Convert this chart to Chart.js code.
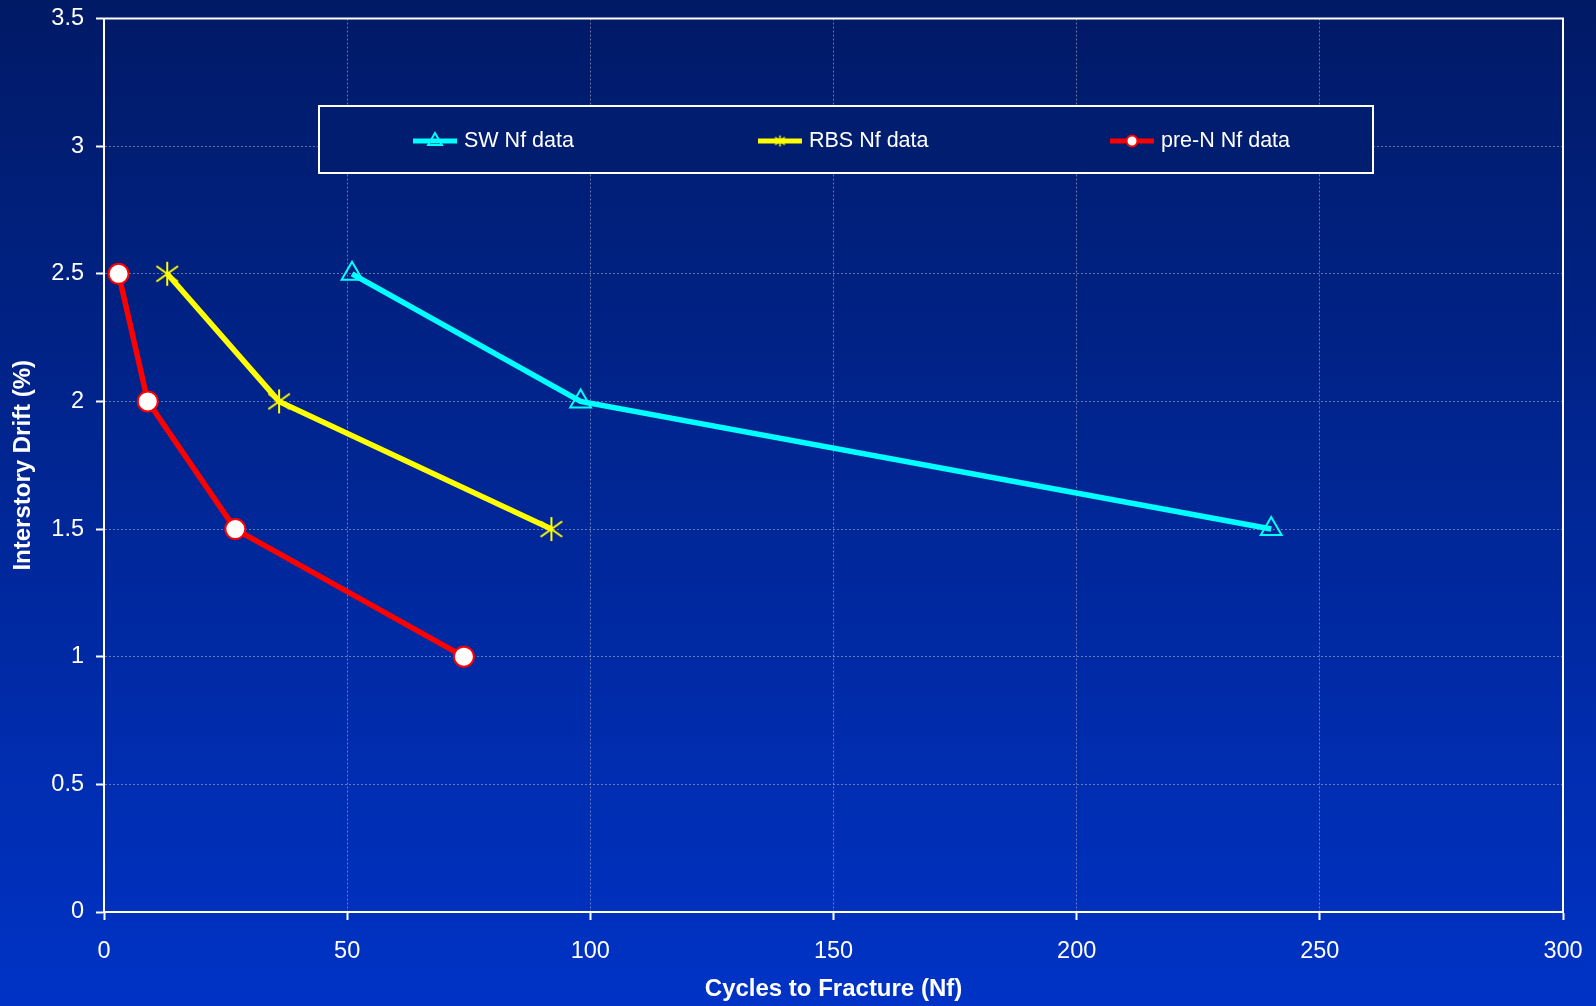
<!DOCTYPE html>
<html>
<head>
<meta charset="utf-8">
<script src="https://cdn.jsdelivr.net/npm/chart.js@4.4.0/dist/chart.umd.min.js"></script>
<style>
  html, body { margin: 0; padding: 0; background: #00227f; }
  #wrap { width: 1596px; height: 1006px; position: relative; }
</style>
</head>
<body>
<div id="wrap"><canvas id="fatigueChart"></canvas></div>
<script>
// data
const swCycles = [51, 98, 240];
const swDrift = [2.5, 2.0, 1.5];
const rbsCycles = [13, 36, 92];
const rbsDrift = [2.5, 2.0, 1.5];
const preNCycles = [3, 9, 27, 74];
const preNDrift = [2.5, 2.0, 1.5, 1.0];
const seriesNames = ["SW Nf data", "RBS Nf data", "pre-N Nf data"];
const xMax = 300, xStep = 50;
const yMax = 3.5, yStep = 0.5;

const FONT = "'Liberation Sans', Arial, sans-serif";

function toPoints(xs, ys) {
  return xs.map((x, i) => ({ x: x, y: ys[i] }));
}

// asterisk marker (vertical + two diagonals)
function makeAsterisk(size, color, lw) {
  const c = document.createElement("canvas");
  c.width = size; c.height = size;
  const g = c.getContext("2d");
  const m = size / 2, r = size / 2 - 1;
  g.strokeStyle = color;
  g.lineWidth = lw;
  g.beginPath();
  g.moveTo(m, m - r); g.lineTo(m, m + r);
  g.moveTo(m - r * 0.9, m - r * 0.65); g.lineTo(m + r * 0.9, m + r * 0.65);
  g.moveTo(m + r * 0.9, m - r * 0.65); g.lineTo(m - r * 0.9, m + r * 0.65);
  g.stroke();
  return c;
}
const starBig = makeAsterisk(26, "#ffff00", 2);
const starSmall = makeAsterisk(13, "#ffff00", 1.5);

// background gradient + plot frame + custom legend
const decor = {
  id: "decor",
  beforeDraw(chart) {
    const { ctx, width, height } = chart;
    const grad = ctx.createLinearGradient(0, 0, 0, height);
    grad.addColorStop(0, "#011a66");
    grad.addColorStop(1, "#0033c6");
    ctx.save();
    ctx.fillStyle = grad;
    ctx.fillRect(0, 0, width, height);
    ctx.restore();
  },
  beforeDatasetsDraw(chart) {
    const a = chart.chartArea;
    const ctx = chart.ctx;
    ctx.save();
    ctx.strokeStyle = "#ffffff";
    ctx.lineWidth = 2;
    ctx.strokeRect(a.left, a.top, a.right - a.left, a.bottom - a.top);
    ctx.restore();
  },
  afterDraw(chart) {
    const ctx = chart.ctx;
    ctx.save();
    ctx.fillStyle = "#011d70";
    ctx.fillRect(319, 106, 1054, 67);
    ctx.strokeStyle = "#ffffff";
    ctx.lineWidth = 2;
    ctx.strokeRect(319, 106, 1054, 67);

    const itemX = [413, 758, 1110];
    const y = 141;
    chart.data.datasets.forEach((ds, i) => {
      const x0 = itemX[i];
      ctx.strokeStyle = ds.borderColor;
      ctx.lineWidth = 5;
      ctx.beginPath();
      ctx.moveTo(x0, y);
      ctx.lineTo(x0 + 44, y);
      ctx.stroke();

      ctx.strokeStyle = ds.pointBorderColor;
      ctx.fillStyle = ds.pointBackgroundColor;
      ctx.lineWidth = 2;
      const style = ds.pointStyle === starBig ? starSmall : ds.pointStyle;
      Chart.helpers.drawPoint(ctx, {
        pointStyle: style,
        radius: ds.pointStyle === "circle" ? 5.5 : 8,
        borderWidth: 2,
        rotation: 0
      }, x0 + 22, y);

      ctx.fillStyle = "#ffffff";
      ctx.font = "21.5px " + FONT;
      ctx.textBaseline = "middle";
      ctx.textAlign = "left";
      ctx.fillText(ds.label, x0 + 51, y);
    });
    ctx.restore();
  }
};

const gridOpts = {
  color: "rgba(185,185,205,0.55)",
  lineWidth: 1,
  tickLength: 8,
  tickColor: "#ffffff",
  tickWidth: 2,
  tickBorderDash: []
};

const ctx = document.getElementById("fatigueChart").getContext("2d");
new Chart(ctx, {
  type: "line",
  data: {
    datasets: [
      {
        label: seriesNames[0],
        data: toPoints(swCycles, swDrift),
        borderColor: "#00ffff",
        borderWidth: 5.5,
        pointStyle: "triangle",
        pointRadius: 12,
        pointBorderWidth: 2,
        pointBorderColor: "#00ffff",
        pointBackgroundColor: "rgba(0,0,0,0)"
      },
      {
        label: seriesNames[1],
        data: toPoints(rbsCycles, rbsDrift),
        borderColor: "#ffff00",
        borderWidth: 5.5,
        pointStyle: starBig,
        pointRadius: 13,
        pointBorderColor: "#ffff00",
        pointBackgroundColor: "#ffff00"
      },
      {
        label: seriesNames[2],
        data: toPoints(preNCycles, preNDrift),
        borderColor: "#ff0000",
        borderWidth: 5.5,
        pointStyle: "circle",
        pointRadius: 10,
        pointBorderWidth: 2,
        pointBorderColor: "#ff0000",
        pointBackgroundColor: "#ffffff"
      }
    ]
  },
  options: {
    responsive: true,
    maintainAspectRatio: false,
    animation: false,
    layout: { padding: { left: 0, right: 33, top: 17, bottom: 0 } },
    plugins: {
      legend: { display: false },
      tooltip: { enabled: false }
    },
    scales: {
      x: {
        type: "linear",
        min: 0,
        max: xMax,
        afterFit(scale) {
          scale.height = 94;
          scale.paddingLeft = 0;
          scale.paddingRight = 0;
        },
        ticks: {
          stepSize: xStep,
          color: "#ffffff",
          padding: 17,
          maxRotation: 0,
          font: { family: FONT, size: 23.5 }
        },
        grid: gridOpts,
        border: { color: "#ffffff", width: 2, dash: [2, 2] },
        title: {
          display: true,
          text: "Cycles to Fracture (Nf)",
          color: "#ffffff",
          padding: { top: 0, bottom: 2 },
          font: { family: FONT, size: 24, weight: "bold" }
        }
      },
      y: {
        type: "linear",
        min: 0,
        max: yMax,
        afterFit(scale) {
          scale.width = 104;
          scale.paddingTop = 0;
          scale.paddingBottom = 0;
        },
        ticks: {
          stepSize: yStep,
          color: "#ffffff",
          padding: 12,
          font: { family: FONT, size: 23.5 },
          callback: v => String(v)
        },
        grid: gridOpts,
        border: { color: "#ffffff", width: 2, dash: [2, 2] },
        title: {
          display: true,
          text: "Interstory Drift (%)",
          color: "#ffffff",
          padding: { top: 9, bottom: 0 },
          font: { family: FONT, size: 24, weight: "bold" }
        }
      }
    }
  },
  plugins: [decor]
});
</script>
</body>
</html>
